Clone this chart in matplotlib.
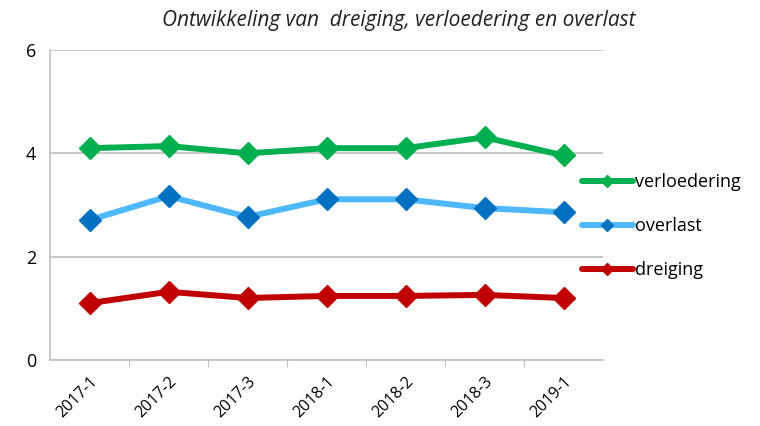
import matplotlib.pyplot as plt
from matplotlib.lines import Line2D

plt.rcParams['font.family'] = ['Open Sans', 'DejaVu Sans']

periodes = ['2017-1', '2017-2', '2017-3', '2018-1', '2018-2', '2018-3', '2019-1']
verloedering = [4.10, 4.14, 4.00, 4.10, 4.10, 4.31, 3.96]
overlast = [2.71, 3.17, 2.77, 3.11, 3.11, 2.94, 2.86]
dreiging = [1.10, 1.32, 1.20, 1.24, 1.24, 1.26, 1.20]

series = [
    ('verloedering', verloedering, '#00B050', '#00B050'),
    ('overlast', overlast, '#4DB8FF', '#0070C0'),
    ('dreiging', dreiging, '#C00000', '#C00000'),
]

fig = plt.figure(figsize=(7.6, 4.26), dpi=100)
ax = fig.add_axes([50/760, 1 - 360/426, 553/760, 310/426])

x = list(range(len(periodes)))
handles = []
for naam, vals, lc, mc in series:
    ax.plot(x, vals, color=lc, lw=4.3, marker='D', ms=11.5,
            mfc=mc, mec=mc, zorder=3, solid_capstyle='round')
    handles.append(Line2D([], [], color=lc, lw=4.3, marker='D', ms=6,
                          mfc=mc, mec=mc, solid_capstyle='round'))

ax.set_xlim(-0.5, len(periodes) - 0.5)
ax.set_ylim(0, 6)
ax.set_yticks([0, 2, 4, 6])
ax.yaxis.grid(True, color='#C0C0C0', lw=1.2)
ax.set_axisbelow(True)
ax.tick_params(axis='y', length=0, labelsize=13, pad=10)

# tick marks between categories, labels centred on categories
ax.set_xticks([i + 0.5 for i in x[:-1]], minor=False)
ax.set_xticks(x, minor=True)
ax.set_xticklabels([])
ax.set_xticklabels(periodes, minor=True, rotation=45, ha='right',
                   rotation_mode='anchor', fontsize=11.5)
ax.tick_params(axis='x', which='major', length=5, color='#C0C0C0')
ax.tick_params(axis='x', which='minor', length=0, pad=10)

for s in ['top', 'right']:
    ax.spines[s].set_visible(False)
ax.spines['left'].set_color('#C0C0C0')
ax.spines['bottom'].set_color('#C0C0C0')
ax.spines['left'].set_linewidth(1.2)
ax.spines['bottom'].set_linewidth(1.2)

ax.legend(handles, [s[0] for s in series], loc='center left',
          bbox_to_anchor=(0.962, 0.432), frameon=False, fontsize=13,
          handlelength=2.8, handletextpad=0.15, labelspacing=1.45,
          borderaxespad=0, borderpad=0)

fig.text(0.525, 0.953, 'Ontwikkeling van  dreiging, verloedering en overlast',
         ha='center', va='center', fontsize=15, style='italic', color='#222222')

fig.savefig('out.png', dpi=100)
